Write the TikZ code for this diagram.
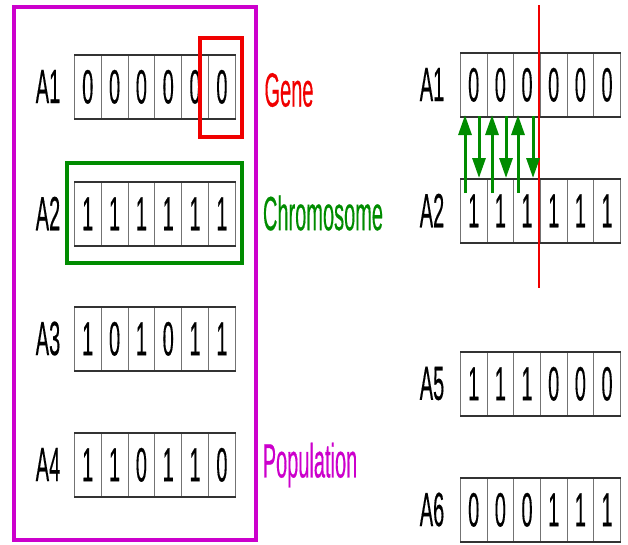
\documentclass[tikz,border=0pt]{standalone}
\usepackage{fontspec}
\setmainfont[FakeBold=0.5]{Liberation Sans}
\usepackage{graphicx}
\usetikzlibrary{arrows.meta}
\definecolor{popc}{RGB}{204,0,204}
\definecolor{genec}{RGB}{240,0,0}
\definecolor{chromc}{RGB}{0,140,0}
\newcommand\tallt[1]{\scalebox{1}[2.4]{#1}}
\tikzset{
  cell/.style={draw=black!55, line width=0.7pt, minimum width=26.8pt, minimum height=63pt,
    inner sep=0pt, anchor=north west, font=\fontsize{20}{20}\selectfont},
  rowedge/.style={draw=black!80, line width=1.8pt},
  lab/.style={inner sep=0pt, font=\fontsize{20}{20}\selectfont},
  xover/.style={draw=chromc, line width=3pt, -{Triangle[width=13pt,length=20pt]}}
}
\begin{document}
\begin{tikzpicture}[x=1pt,y=-1pt]
\useasboundingbox (0,0) rectangle (628,544);
% left rows
\foreach \r/\yt/\bits in {1/55/{0,0,0,0,0,0},2/182/{1,1,1,1,1,1},3/307/{1,0,1,0,1,1},4/433/{1,1,0,1,1,0}}{
  \foreach \b [count=\i] in \bits {
    \node[cell] (L\r-\i) at ({74+(\i-1)*26.83},\yt) {\tallt{\b}};
  }
  \draw[rowedge] (L\r-1.north west) -- (L\r-6.north east);
  \draw[rowedge] (L\r-1.south west) -- (L\r-6.south east);
  \node[lab] (LA\r) at (48,\yt+31.5) {\tallt{A\r}};
}
% right rows
\foreach \r/\yt/\bits in {1/53/{0,0,0,0,0,0},2/179/{1,1,1,1,1,1},5/352/{1,1,1,0,0,0},6/478/{0,0,0,1,1,1}}{
  \foreach \b [count=\i] in \bits {
    \node[cell, minimum width=26.67pt] (R\r-\i) at ({460+(\i-1)*26.67},\yt) {\tallt{\b}};
  }
  \draw[rowedge] (R\r-1.north west) -- (R\r-6.north east);
  \draw[rowedge] (R\r-1.south west) -- (R\r-6.south east);
  \node[lab] (RA\r) at (432,\yt+31.5) {\tallt{A\r}};
}
% boxes
\draw[popc, line width=3.5pt] (14,7) rectangle (256,540);
\draw[genec, line width=4pt] (200,38) rectangle (242,137);
\draw[chromc, line width=4pt] (67,163) rectangle (242,263);
% labels
\node[lab, text=genec] (gene) at (289,90) {\tallt{Gene}};
\node[lab, text=chromc] (chrom) at (323,213) {\tallt{Chromosome}};
\node[lab, text=popc] (pop) at (310,465) {\tallt{Population}};
% crossover point
\coordinate (cutT) at (539,5);
\coordinate (cutB) at (539,288);
\draw[genec, line width=2pt] (cutT) -- (cutB);
% swap arrows
\foreach \x in {465,492,518}{
  \draw[xover] (\x,193) -- (\x,115);
}
\foreach \x in {479,506,533}{
  \draw[xover] (\x,116) -- (\x,178);
}
\end{tikzpicture}
\end{document}
